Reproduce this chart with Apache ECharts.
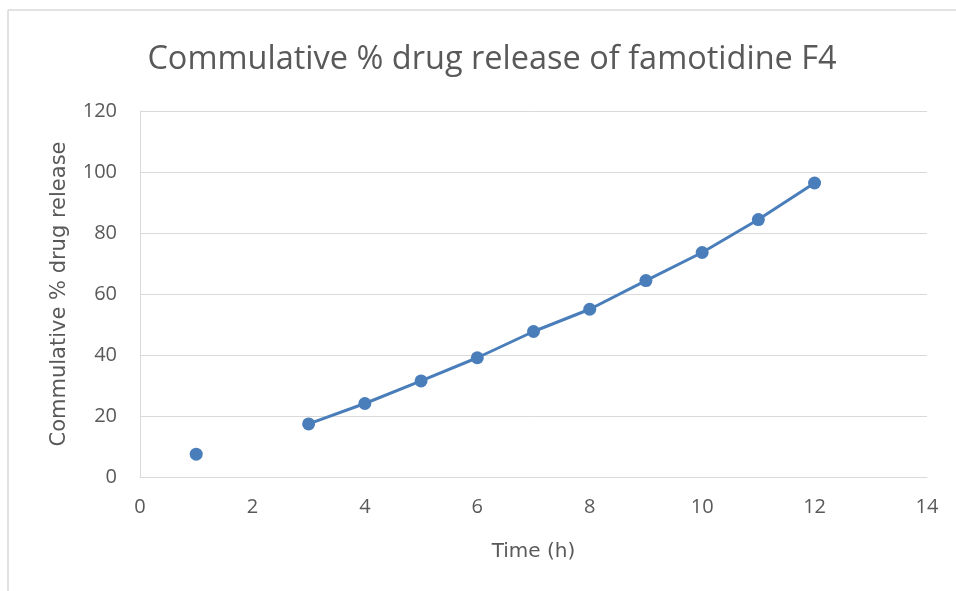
<!DOCTYPE html>
<html>
<head>
<meta charset="utf-8">
<script src="https://cdn.jsdelivr.net/npm/echarts@6/dist/echarts.min.js"></script>
<style>
html,body{margin:0;padding:0;background:#fff;}
#chart{width:956px;height:591px;}
</style>
</head>
<body>
<div id="chart"></div>
<script>
const timeHours = [1, 2, 3, 4, 5, 6, 7, 8, 9, 10, 11, 12];
const releasePct = [7.5, null, 17.4, 24.1, 31.5, 39.1, 47.7, 55.0, 64.4, 73.6, 84.4, 96.4];
const titleText = 'Commulative % drug release of famotidine F4';
const xAxisName = 'Time (h)';
const yAxisName = 'Commulative % drug release';

const font = '"Open Sans", sans-serif';
const nameFont = '"DejaVu Sans", sans-serif';
const chart = echarts.init(document.getElementById('chart'));
chart.setOption({
  animation: false,
  backgroundColor: '#fff',
  title: {
    text: titleText,
    left: 487,
    textAlign: 'center',
    top: 38,
    textStyle: { fontFamily: font, fontSize: 32.5, fontWeight: 'normal', color: '#595959' }
  },
  graphic: [
    { type: 'line', shape: { x1: 8, y1: 10, x2: 956, y2: 10 }, style: { stroke: '#d9d9d9', lineWidth: 1.5 } },
    { type: 'line', shape: { x1: 8, y1: 10, x2: 8, y2: 591 }, style: { stroke: '#d9d9d9', lineWidth: 1.5 } }
  ],
  grid: { left: 140, right: 29, top: 111, bottom: 114 },
  xAxis: {
    type: 'value', min: 0, max: 14, interval: 2,
    name: xAxisName, nameLocation: 'middle', nameGap: 65,
    nameTextStyle: { fontFamily: nameFont, fontSize: 20, color: '#595959' },
    axisLine: { show: true, lineStyle: { color: '#d9d9d9', width: 1 } },
    axisTick: { show: false },
    splitLine: { show: false },
    axisLabel: { fontFamily: font, fontSize: 20, color: '#595959', margin: 20 }
  },
  yAxis: {
    type: 'value', min: 0, max: 120, interval: 20,
    name: yAxisName, nameLocation: 'middle', nameGap: 70, nameRotate: 90,
    nameTextStyle: { fontFamily: nameFont, fontSize: 21, color: '#595959' },
    axisLine: { show: true, lineStyle: { color: '#d9d9d9', width: 1 } },
    axisTick: { show: false },
    splitLine: { show: true, lineStyle: { color: '#d9d9d9', width: 1 } },
    axisLabel: { fontFamily: font, fontSize: 20, color: '#595959', margin: 23 }
  },
  series: [{
    type: 'line',
    data: timeHours.map((t, i) => [t, releasePct[i]]),
    connectNulls: false,
    symbol: 'circle', symbolSize: 13,
    lineStyle: { color: '#4a7ebb', width: 3 },
    itemStyle: { color: '#4a7ebb' }
  }]
});
</script>
</body>
</html>
